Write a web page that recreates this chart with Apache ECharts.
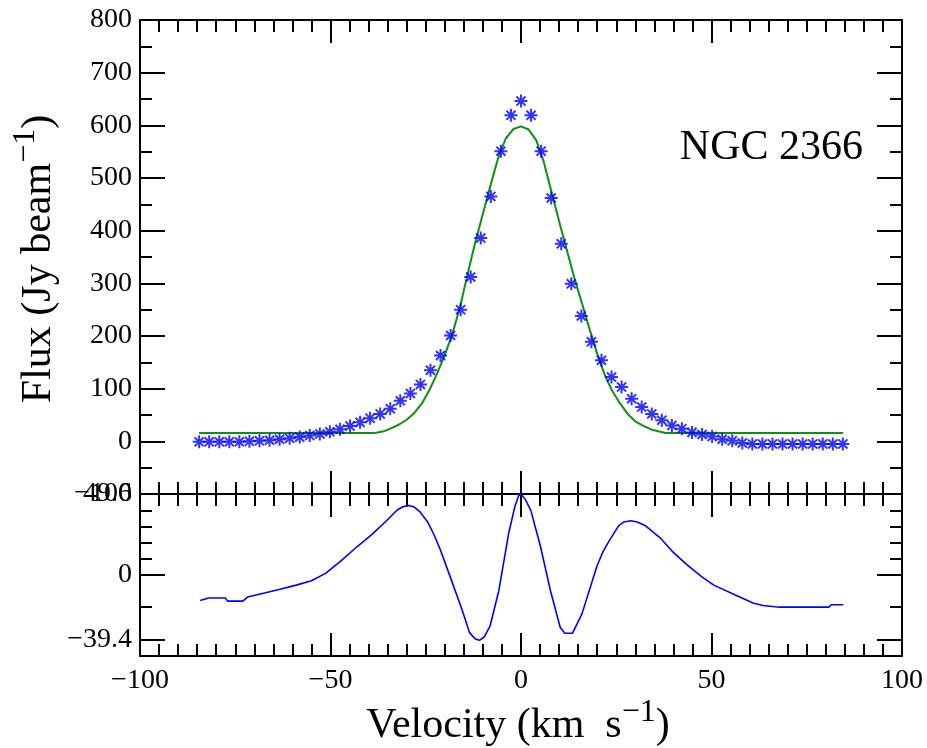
<!DOCTYPE html>
<html><head><meta charset="utf-8">
<script src="https://cdn.jsdelivr.net/npm/echarts@6/dist/echarts.min.js"></script>
<style>html,body{margin:0;padding:0;background:#fff}#c{width:927px;height:748px}</style>
</head><body><div id="c"></div>
<script>
// ---- data ----
const velocity = [-84.48,-81.84,-79.20,-76.56,-73.92,-71.28,-68.64,-66.00,-63.36,-60.72,-58.08,-55.44,-52.80,-50.16,-47.52,-44.88,-42.24,-39.60,-36.96,-34.32,-31.68,-29.04,-26.40,-23.76,-21.12,-18.48,-15.84,-13.20,-10.56,-7.92,-5.28,-2.64,0,
  2.64,5.28,7.92,10.56,13.20,15.84,18.48,21.12,23.76,26.40,29.04,31.68,34.32,36.96,39.60,42.24,44.88,47.52,50.16,52.80,55.44,58.08,60.72,63.36,66.00,68.64,71.28,73.92,76.56,79.20,81.84,84.48];
const flux = [-1,-1,-1,-1,-1,0,1,2,4,6,8,11,14,18,23,29,36,44,52,62,77,91,108,135,163,201,250,312,386,465,551,619,646,
  619,551,462,375,299,238,189,154,122,103,81,65,52,40,30,24,17,13,9,4,1,-3,-5,-5,-5,-5,-5,-5,-5,-5,-5,-5];

const modelVelocity = [-84.5,-40,-38,-36,-34,-32,-30,-28,-26,-24,-22,-20,-18,-16,-14,-12,-10,-8,-6,-4,-2,0,2,4,6,8,10,12,14,16,18,20,22,24,26,28,30,32,34,36,38,84.5];
const modelFlux = [16,16,16.5,19,25,32,41,54,72,98,129,164,204,255,318,378,432,486,538,575,593,598,592,572,530,474,418,364,310,262,213,166,126,95,72,52,38,30,23,19,16,16];

const residualVelocity = [-84.2,-82,-77.6,-77,-73,-71.8,-67.3,-63.5,-59,-55,-51.3,-47.4,-42.9,-39.1,-35.3,-32.5,-31,-29.5,-28,-26.5,-24.4,-22.8,-21.2,-18.6,-15.4,-13.5,-12,-10.9,-9.6,-8.1,-5.8,-3.2,-1.6,-0.6,0,1.2,2.6,5.1,7.7,10.3,11.5,13.5,16,19.9,21.5,23.1,25.6,27,28.8,30.5,32.7,36.5,39.7,43.6,47.4,50.6,56.4,60.9,63.5,67.9,80.8,81.4,84.6];
const residual = [-15.6,-14.1,-14.1,-16,-16,-13.5,-11,-8.9,-6.2,-3.5,1,8.3,17.6,24.9,33.2,39.8,41.8,42.5,41.6,38.6,32.1,24.5,15.6,-1,-21.8,-35.3,-39.2,-40,-37.8,-31.1,-9.3,25.9,42,48.7,49.6,46,39.4,17.6,-9.3,-32.1,-35.7,-35.7,-23.8,5.2,14.2,20.7,30.1,32.5,33.2,32.4,30.1,22.8,14.5,6.2,-1,-6.2,-12.4,-17.2,-18.7,-19.7,-19.7,-18.2,-18.2];

const residualTickLabels = [-39.4, 0, 49.6];
const residualMinorTicks = [-19.7, 9.85, 19.7, 29.55, 39.4];

// ---- chart ----
const FONT = 'Liberation Serif';
const BLACK = '#000';
const fmt = v => String(v).replace('-', '\u2212');
const line = {show: true, onZero: false, lineStyle: {color: BLACK, width: 2}};
const noLine = {show: false, onZero: false};

function xAx(grid, pos, labels) {
  return {
    type: 'value', gridIndex: grid, position: pos, min: -100, max: 100, interval: 50,
    axisLine: line,
    axisTick: {show: true, inside: true, length: 23, lineStyle: {color: BLACK, width: 2}},
    minorTick: {show: true, splitNumber: 10, length: 12, lineStyle: {color: BLACK, width: 2}},
    splitLine: {show: false}, minorSplitLine: {show: false},
    axisLabel: {show: labels, color: BLACK, fontFamily: FONT, fontSize: 28, margin: 11, formatter: fmt}
  };
}

const option = {
  animation: false,
  backgroundColor: '#fff',
  grid: [
    {left: 140, top: 20, width: 762, height: 474},
    {left: 140, top: 494, width: 762, height: 162}
  ],
  xAxis: [xAx(0, 'bottom', false), xAx(0, 'top', false), xAx(1, 'top', false), xAx(1, 'bottom', true)],
  yAxis: [
    {type: 'value', gridIndex: 0, position: 'left', min: -100, max: 800, interval: 100,
     axisLine: line,
     axisTick: {show: true, inside: true, length: 25, lineStyle: {color: BLACK, width: 2}},
     minorTick: {show: true, splitNumber: 2, length: 12, lineStyle: {color: BLACK, width: 2}},
     splitLine: {show: false},
     axisLabel: {color: BLACK, fontFamily: FONT, fontSize: 28, margin: 8, formatter: fmt}},
    {type: 'value', gridIndex: 0, position: 'right', min: -100, max: 800, interval: 100,
     axisLine: line,
     axisTick: {show: true, inside: true, length: 25, lineStyle: {color: BLACK, width: 2}},
     minorTick: {show: true, splitNumber: 2, length: 12, lineStyle: {color: BLACK, width: 2}},
     splitLine: {show: false}, axisLabel: {show: false}},
    {type: 'value', gridIndex: 1, position: 'left', min: -49.6, max: 49.6,
     axisLine: line,
     axisTick: {show: true, inside: true, length: 25, customValues: residualTickLabels, lineStyle: {color: BLACK, width: 2}},
     splitLine: {show: false},
     axisLabel: {color: BLACK, fontFamily: FONT, fontSize: 28, margin: 8, customValues: residualTickLabels, formatter: fmt}},
    {type: 'value', gridIndex: 1, position: 'left', min: -49.6, max: 49.6,
     axisLine: noLine,
     axisTick: {show: true, inside: true, length: 12, customValues: residualMinorTicks, lineStyle: {color: BLACK, width: 2}},
     splitLine: {show: false}, axisLabel: {show: false}},
    {type: 'value', gridIndex: 1, position: 'right', min: -49.6, max: 49.6,
     axisLine: line,
     axisTick: {show: true, inside: true, length: 25, customValues: residualTickLabels, lineStyle: {color: BLACK, width: 2}},
     splitLine: {show: false}, axisLabel: {show: false}},
    {type: 'value', gridIndex: 1, position: 'right', min: -49.6, max: 49.6,
     axisLine: noLine,
     axisTick: {show: true, inside: true, length: 12, customValues: residualMinorTicks, lineStyle: {color: BLACK, width: 2}},
     splitLine: {show: false}, axisLabel: {show: false}}
  ],
  series: [
    {type: 'line', xAxisIndex: 0, yAxisIndex: 0, showSymbol: false, z: 2,
     data: modelVelocity.map((v, i) => [v, modelFlux[i]]),
     lineStyle: {color: '#109010', width: 2}},
    {type: 'scatter', xAxisIndex: 0, yAxisIndex: 0, z: 3,
     symbol: 'path://M5,0L5,10M0,5L10,5M1.5,1.5L8.5,8.5M1.5,8.5L8.5,1.5', symbolSize: 13,
     itemStyle: {color: 'transparent', borderColor: '#0000ff', borderWidth: 2},
     data: velocity.map((v, i) => [v, flux[i]])},
    {type: 'line', xAxisIndex: 3, yAxisIndex: 2, showSymbol: false,
     data: residualVelocity.map((v, i) => [v, residual[i]]),
     lineStyle: {color: '#0000ff', width: 1.6}}
  ],
  graphic: [
    {type: 'text', x: 863, y: 148, z: 10,
     style: {text: 'NGC 2366', fontFamily: FONT, fontSize: 42, fill: BLACK, align: 'right', verticalAlign: 'middle', textAlign: 'right', textVerticalAlign: 'middle'}},
    {type: 'text', x: 39, y: 259, rotation: Math.PI / 2, z: 10,
     style: {text: '{m|Flux (Jy beam}{s|\u22121}{m|)}', fill: BLACK, align: 'center', verticalAlign: 'middle', textAlign: 'center', textVerticalAlign: 'middle',
       rich: {m: {fontFamily: FONT, fontSize: 42, fill: BLACK, color: BLACK}, s: {fontFamily: FONT, fontSize: 32, fill: BLACK, color: BLACK, padding: [0, 0, 26, 0]}}}},
    {type: 'text', x: 518, y: 726, z: 10,
     style: {text: '{m|Velocity (km  s}{s|\u22121}{m|)}', fill: BLACK, align: 'center', verticalAlign: 'middle', textAlign: 'center', textVerticalAlign: 'middle',
       rich: {m: {fontFamily: FONT, fontSize: 42, fill: BLACK, color: BLACK}, s: {fontFamily: FONT, fontSize: 32, fill: BLACK, color: BLACK, padding: [0, 0, 26, 0]}}}}
  ]
};
const chart = echarts.init(document.getElementById('c'), null, {renderer: 'canvas'});
chart.setOption(option);
</script></body></html>
